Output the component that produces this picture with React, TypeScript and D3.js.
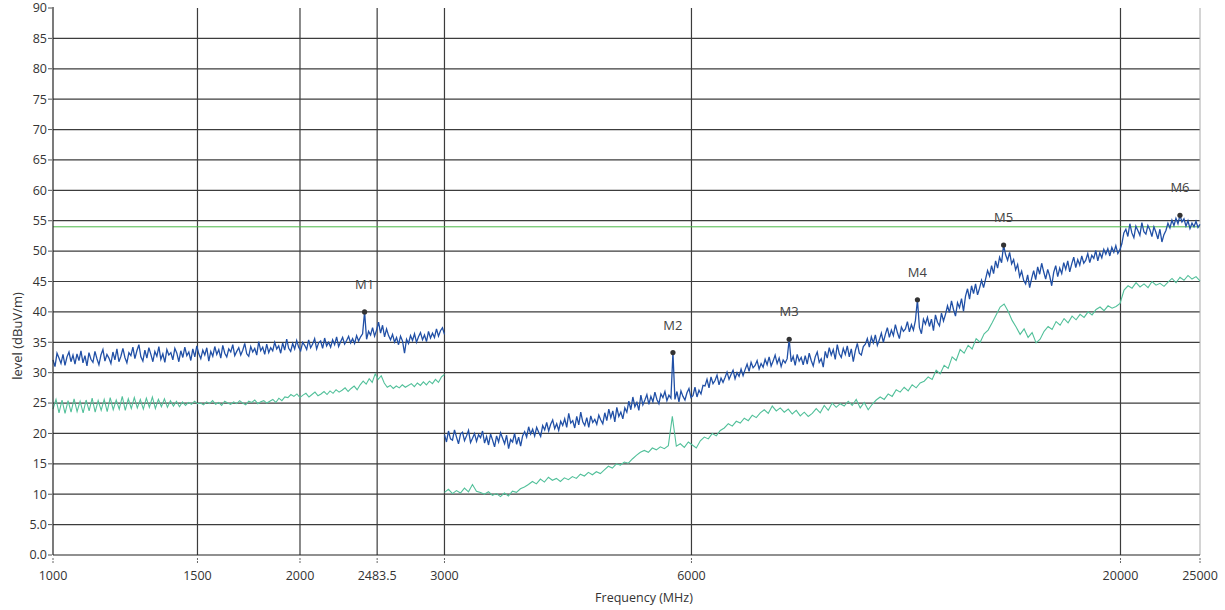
import React from "react";
import * as d3 from "d3";

// Sweep ranges (MHz) – two measurement segments
const seg1Range: [number, number] = [1000, 3000];
const seg2Range: [number, number] = [3000, 25000];

// X tick labels
const xTicks = [1000, 1500, 2000, 2483.5, 3000, 6000, 20000, 25000];
const xTickLabels = ["1000", "1500", "2000", "2483.5", "3000", "6000", "20000", "25000"];
// Y ticks
const yTicks = [0, 5, 10, 15, 20, 25, 30, 35, 40, 45, 50, 55, 60, 65, 70, 75, 80, 85, 90];
const yTickLabels = ["0.0", "5.0", "10", "15", "20", "25", "30", "35", "40", "45", "50", "55", "60", "65", "70", "75", "80", "85", "90"];

// Limit line (dBuV/m)
const limitLevel = 54;

// Peak trace, segment 1 (1000–3000 MHz)
const peakSeg1 = [
  32.1, 31.0, 33.2, 32.4, 31.5, 33.0, 31.2, 32.6, 33.4, 31.8,
  32.9, 31.4, 33.1, 32.0, 33.6, 31.6, 32.8, 31.1, 33.3, 32.2,
  31.7, 33.5, 32.3, 31.3, 32.9, 33.8, 31.9, 33.0, 32.4, 31.5,
  33.4, 32.1, 33.9, 31.8, 32.7, 34.0, 32.5, 31.6, 33.3, 32.8,
  34.2, 32.3, 33.6, 34.6, 32.6, 31.9, 33.7, 32.4, 34.1, 33.0,
  31.8, 33.5, 32.7, 34.3, 32.2, 33.1, 31.7, 33.8, 32.9, 33.3,
  32.1, 34.0, 33.2, 31.8, 33.6, 32.5, 34.2, 32.8, 33.4, 32.0,
  33.9, 32.6, 34.4, 33.1, 32.3, 33.7, 32.9, 34.1, 31.9, 33.5,
  32.7, 34.3, 33.0, 33.8, 32.4, 34.5, 33.2, 32.6, 33.9, 33.4,
  34.6, 32.8, 33.5, 34.1, 32.9, 33.7, 34.8, 33.1, 32.7, 34.3,
  33.4, 34.0, 32.9, 35.1, 33.6, 34.2, 33.0, 34.7, 33.3, 34.1,
  33.6, 35.0, 33.9, 34.4, 33.2, 34.9, 33.7, 35.5, 34.0, 33.5,
  34.8, 33.9, 35.3, 34.2, 33.6, 35.0, 34.5, 33.8, 35.4, 34.1,
  34.7, 35.6, 33.9, 34.9, 35.2, 34.0, 35.7, 34.4, 35.0, 34.2,
  35.4, 34.6, 35.9, 34.3, 35.1, 35.8, 34.7, 35.3, 36.0, 34.9,
  35.6, 34.8, 36.1, 35.2, 35.9, 36.4, 40.0, 35.5, 36.8, 36.2,
  37.4, 36.0, 37.0, 38.3, 36.5, 37.8, 35.9, 37.2, 36.1, 35.4,
  36.3, 35.0, 35.8, 34.6, 36.0, 35.2, 33.2, 35.5, 34.8, 36.1,
  35.3, 36.4, 35.0, 35.9, 36.6, 35.4, 36.2, 35.1, 36.8, 35.7,
  36.5, 35.8, 37.2, 36.0, 36.9, 37.4, 36.3,
];

// Average trace, segment 1
const avgSeg1 = [
  24.0, 25.6, 23.4, 25.5, 23.3, 25.4, 23.5, 25.7, 23.6, 25.3,
  23.4, 25.5, 23.7, 25.8, 23.5, 25.4, 23.8, 25.6, 23.6, 25.9,
  23.9, 25.5, 24.0, 26.1, 23.8, 25.7, 24.1, 25.9, 24.2, 25.6,
  24.0, 25.8, 24.3, 26.0, 24.1, 25.6, 24.4, 25.7, 24.3, 25.4,
  24.5, 25.3, 24.4, 25.2, 24.6, 25.1, 24.8, 25.3, 24.9, 25.0,
  24.7, 25.2, 24.9, 25.4, 24.8, 25.1, 24.6, 25.3, 25.0, 24.8,
  25.2, 24.9, 25.4, 25.0, 24.7, 25.3, 25.1, 25.5, 24.9, 25.2,
  25.4, 25.0, 25.3, 25.6, 25.1, 25.8, 25.4, 26.0, 25.9, 26.4,
  26.1, 26.5, 25.9, 26.3, 26.6, 26.0, 26.4, 26.8, 26.2, 26.5,
  26.9, 26.4, 27.0, 26.6, 27.2, 26.8, 27.1, 27.5, 26.9, 27.4,
  27.8, 27.2, 28.0, 28.6, 28.1, 29.0, 28.4, 29.8, 28.9, 29.5,
  28.3, 27.6, 27.9, 27.4, 27.8, 27.5, 28.0, 27.6, 27.9, 28.2,
  27.7, 28.3, 27.9, 28.5, 28.0, 28.6, 28.2, 28.9, 28.4, 29.3, 29.7,
];

// Peak trace, segment 2 (3000–25000 MHz)
const peakSeg2 = [
  19.8, 18.6, 20.4, 19.1, 18.9, 20.6, 19.4, 18.3, 19.9, 20.2,
  18.8, 19.6, 20.5, 18.5, 19.2, 20.0, 18.7, 19.8, 19.3, 20.4,
  18.4, 19.5, 18.1, 19.9, 18.9, 17.8, 19.6, 18.6, 20.1, 19.2,
  18.3, 19.7, 17.5, 19.0, 18.6, 20.0, 18.2, 19.4, 17.9, 19.6,
  20.3, 19.4, 21.1, 19.9, 20.7, 19.6, 21.0, 20.2, 19.5, 21.3,
  20.6, 21.8, 20.4, 21.5, 22.2, 20.8, 21.6, 20.5, 22.0, 21.3,
  22.4, 21.0, 23.3, 21.7, 22.1, 20.9, 22.8, 21.4, 23.5, 21.9,
  21.3, 22.6, 21.0, 22.9, 21.8, 22.3, 21.5, 23.0, 22.2, 21.6,
  23.4, 22.1, 24.0, 22.6, 23.7, 21.9, 24.3, 22.8, 23.5, 22.4,
  24.2, 23.5, 25.3, 23.9, 26.0, 24.4, 25.1, 23.8, 26.3, 24.7,
  25.5, 26.4, 24.8, 26.1, 25.2, 26.8, 25.6, 24.9, 26.5, 25.9,
  26.9, 25.4, 26.3, 25.8, 33.3, 25.6, 26.9, 25.2, 27.0, 26.1,
  25.5, 26.7, 27.4, 25.9, 26.2, 27.6, 26.0, 27.1, 26.5, 27.9,
  27.8, 28.9, 27.5, 29.3, 28.2, 28.7, 29.6, 28.0, 29.1, 28.4,
  29.2, 30.1, 28.9, 29.7, 30.4, 29.0, 30.0, 29.4, 30.6, 29.5,
  30.5, 31.4, 30.2, 31.7, 30.8, 31.2, 32.0, 30.6, 31.5, 30.9,
  32.2, 31.3, 32.6, 31.1, 31.9, 32.9, 31.5, 32.4, 31.0, 32.1,
  31.6, 32.3, 35.5, 31.8, 32.7, 31.2, 33.0, 31.9, 32.5, 31.3,
  32.8, 31.4, 33.2, 32.0, 31.1, 32.6, 33.4, 31.7, 32.3, 30.9,
  33.5, 32.4, 34.1, 32.9, 33.8, 32.2, 34.6, 33.1, 32.5, 34.0,
  33.0, 34.4, 32.6, 33.9, 31.8, 33.6, 34.8, 33.2, 32.9, 34.3,
  34.7, 35.6, 34.2, 35.9, 34.9, 36.2, 34.5, 35.4, 36.5, 35.0,
  36.3, 37.4, 35.8, 37.0, 36.1, 37.9, 36.6, 35.6, 37.5, 36.8,
  37.2, 38.4, 36.7, 37.9, 37.0, 38.6, 42.0, 37.4, 36.4, 38.8,
  38.0, 39.1, 37.6, 38.8, 36.9, 39.5, 38.3, 37.7, 39.8, 38.5,
  39.6, 41.0, 39.9, 41.8, 40.4, 39.3, 41.5, 40.7, 42.2, 40.1,
  42.6, 43.8, 42.1, 44.3, 43.0, 44.6, 42.8, 43.9, 45.2, 44.0,
  45.4, 46.8, 45.9, 47.6, 46.3, 48.4, 47.2, 49.0, 48.1, 51.0,
  49.4, 48.5, 49.8, 47.9, 48.6, 46.9, 47.8, 45.8, 46.7, 45.2,
  44.6, 46.1, 44.0, 45.5, 46.8, 45.3, 47.4, 46.2, 48.0, 46.6,
  45.4, 47.0, 45.9, 44.3, 46.5, 47.6, 45.8, 47.2, 46.3, 48.1,
  47.0, 48.4, 46.6, 47.9, 49.0, 47.3, 48.6, 47.7, 49.2, 48.0,
  48.5, 49.6, 48.1, 49.3, 48.8, 50.1, 48.4, 49.7, 48.9, 50.3,
  49.5, 50.4, 49.2, 50.6, 49.8, 50.9, 49.6, 50.2, 51.2, 53.0,
  53.6, 52.4, 54.5, 53.0, 52.2, 54.1, 53.4, 52.6, 54.7, 53.2,
  52.8, 54.2, 53.5, 52.4, 54.0, 53.1, 52.0, 53.6, 51.5, 52.7,
  53.4, 54.6, 53.8, 55.1, 54.2, 55.4, 54.5, 55.9, 54.8, 55.3,
  54.1, 55.0, 53.7, 54.6, 54.0, 54.9, 53.9, 54.4,
];

// Average trace, segment 2
const avgSeg2 = [
  10.3, 10.8, 10.1, 10.6, 10.2, 11.0, 10.4, 11.6, 10.5, 10.3,
  10.0, 10.4, 9.8, 10.1, 9.6, 10.2, 9.7, 10.5, 10.3, 10.9,
  11.2, 11.6, 12.1, 11.7, 12.5, 12.0, 12.8, 12.3, 12.6, 12.1,
  12.7, 12.4, 12.9, 12.6, 13.3, 13.0, 13.6, 13.2, 13.7, 13.4,
  14.0, 14.6, 14.3, 15.0, 14.8, 15.3, 15.1, 15.8, 16.4, 16.9,
  17.2, 16.9, 17.6, 17.3, 17.8, 17.5, 18.0, 22.8, 17.9, 18.3,
  17.7, 18.6, 18.1, 17.6, 18.8, 19.4, 19.1, 20.0, 19.6, 20.5,
  20.9, 21.6, 21.2, 22.0, 21.7, 22.5, 22.1, 23.0, 22.6, 23.4,
  23.9, 23.3, 24.5, 23.7, 24.2, 23.5, 24.0, 23.2, 23.8, 22.9,
  23.5, 22.8, 23.3, 24.1, 23.4, 24.6, 23.8, 25.0, 24.3, 24.9,
  24.5, 25.3, 24.6, 25.6, 24.2, 25.1, 23.9, 24.8, 25.5, 26.0,
  25.6, 26.5, 26.1, 27.2, 26.8, 27.6, 27.0, 28.0, 27.5, 28.3,
  28.6, 29.3, 28.9, 30.4, 29.8, 31.2, 30.7, 32.6, 32.0, 33.8,
  33.2, 34.5, 33.9, 35.6, 35.0, 36.4, 37.0, 38.2, 39.5, 40.8,
  41.3, 40.1, 38.6, 37.5, 36.3, 37.2, 35.8, 36.6, 34.9, 35.5,
  36.8, 37.6, 37.1, 38.4, 37.8, 38.9, 38.2, 39.3, 38.7, 39.6,
  39.1, 40.0, 39.5, 40.4, 40.8, 40.2, 41.0, 40.6, 40.9, 41.4,
  43.6, 44.3, 43.9, 44.8, 44.1, 44.6, 44.0, 45.0, 44.4, 44.7,
  44.2, 44.9, 45.5, 44.8, 45.7, 45.2, 46.0, 45.4, 45.8, 45.1,
];

// Markers (approximate frequencies in MHz)
const markerLabels = ["M1", "M2", "M3", "M4", "M5", "M6"];
const markerFreqs = [2400, 5730, 7910, 11330, 14430, 23700];

const W = 1225;
const H = 610;
const M = { left: 53, right: 1200, top: 8, bottom: 555 };

const BLUE = "#2150a6";
const GREEN = "#52c09a";
const LIMIT = "#4cb848";
const GRID = "#3c3c3c";
const TEXT = "#333";
const FONT = "'Open Sans', 'Noto Sans', sans-serif";

type Pt = { f: number; v: number };

function sweep(range: [number, number], values: number[]): Pt[] {
  const n = values.length;
  const lg = d3.scaleLinear().domain([0, n - 1]).range([Math.log10(range[0]), Math.log10(range[1])]);
  return values.map((v, i) => ({ f: Math.pow(10, lg(i)), v }));
}

export default function App() {
  const x = d3.scaleLog().domain([1000, 25000]).range([M.left, M.right]);
  const y = d3.scaleLinear().domain([0, 90]).range([M.bottom, M.top]);

  const peak1 = sweep(seg1Range, peakSeg1);
  const peak2 = sweep(seg2Range, peakSeg2);
  const avg1 = sweep(seg1Range, avgSeg1);
  const avg2 = sweep(seg2Range, avgSeg2);
  const allPeak = [...peak1, ...peak2];

  const line = d3
    .line<Pt>()
    .x((d) => x(d.f))
    .y((d) => y(d.v));

  const markers = markerFreqs.map((mf, k) => {
    let best = 0;
    let bd = Infinity;
    allPeak.forEach((p, i) => {
      const dd = Math.abs(Math.log10(p.f) - Math.log10(mf));
      if (dd < bd) {
        bd = dd;
        best = i;
      }
    });
    let mi = best;
    for (let j = Math.max(0, best - 2); j <= Math.min(allPeak.length - 1, best + 2); j++) {
      if (allPeak[j].v > allPeak[mi].v) mi = j;
    }
    return { label: markerLabels[k], p: allPeak[mi] };
  });

  return (
    <svg
      width={W}
      height={H}
      style={{ position: "absolute", left: 0, top: 0, background: "#fff" }}
      fontFamily={FONT}
    >
      {yTicks
        .filter((t) => t > 0 && t < 90)
        .map((t) => (
          <line key={"hg" + t} x1={M.left} x2={M.right} y1={y(t)} y2={y(t)} stroke={GRID} strokeWidth={1.2} />
        ))}
      {xTicks
        .filter((t) => t > 1000 && t < 25000)
        .map((t) => (
          <line key={"vg" + t} x1={x(t)} x2={x(t)} y1={M.top} y2={M.bottom} stroke={GRID} strokeWidth={1.2} />
        ))}
      <line x1={M.right} x2={M.right} y1={M.top} y2={M.bottom} stroke="#aaa" strokeWidth={1} />

      <line x1={M.left} x2={M.right} y1={y(limitLevel)} y2={y(limitLevel)} stroke={LIMIT} strokeWidth={1} />

      <path d={line(avg1) || ""} fill="none" stroke={GREEN} strokeWidth={1.1} />
      <path d={line(avg2) || ""} fill="none" stroke={GREEN} strokeWidth={1.1} />
      <path d={line(peak1) || ""} fill="none" stroke={BLUE} strokeWidth={1.3} />
      <path d={line(peak2) || ""} fill="none" stroke={BLUE} strokeWidth={1.3} />

      {markers.map((m) => (
        <g key={m.label}>
          <circle cx={x(m.p.f)} cy={y(m.p.v)} r={2.6} fill="#333" />
          <text x={x(m.p.f)} y={y(m.p.v) - 23} textAnchor="middle" fontSize={13} fill="#444">
            {m.label}
          </text>
        </g>
      ))}

      <line x1={M.left} x2={M.left} y1={M.top - 1} y2={M.bottom} stroke="#222" strokeWidth={1.2} />
      <line x1={M.left} x2={M.right} y1={M.bottom} y2={M.bottom} stroke="#222" strokeWidth={1.2} />

      {yTicks.map((t, i) => (
        <g key={"yt" + t}>
          <line x1={M.left - 5} x2={M.left - 1} y1={y(t)} y2={y(t)} stroke="#555" strokeWidth={1} />
          <text x={M.left - 6} y={y(t)} dy="0.35em" textAnchor="end" fontSize={12.5} fill={TEXT}>
            {yTickLabels[i]}
          </text>
        </g>
      ))}
      {xTicks.map((t, i) => (
        <g key={"xt" + t}>
          <line x1={x(t)} x2={x(t)} y1={M.bottom + 3} y2={M.bottom + 8} stroke="#666" strokeWidth={1} strokeDasharray="2,1" />
          <text x={x(t)} y={M.bottom + 25} textAnchor="middle" fontSize={12.5} fill={TEXT}>
            {xTickLabels[i]}
          </text>
        </g>
      ))}

      <text x={644} y={602} textAnchor="middle" fontSize={12.5} fill={TEXT}>
        Frequency (MHz)
      </text>
      <text transform={`translate(22, ${336}) rotate(-90)`} textAnchor="middle" fontSize={13} fill={TEXT}>
        level (dBuV/m)
      </text>
    </svg>
  );
}
